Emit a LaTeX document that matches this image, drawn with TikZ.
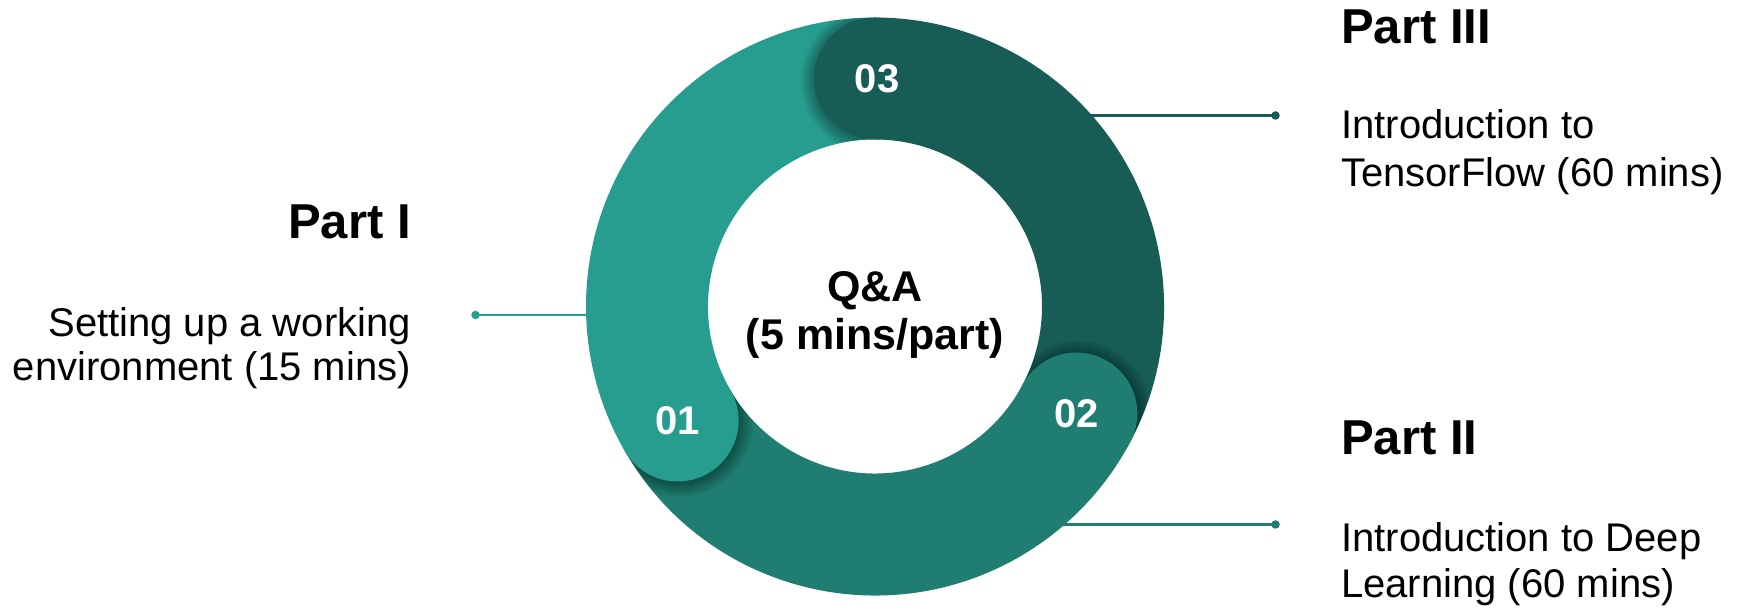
\documentclass[tikz,border=0pt]{standalone}
\usepackage{fontspec}
\setmainfont{Liberation Sans}
\usetikzlibrary{calc}
\definecolor{tealA}{HTML}{279D8F}
\definecolor{tealB}{HTML}{1F7D72}
\definecolor{tealC}{HTML}{175C55}
\newcommand\ringsector[3]{\fill[#1] ($(C)+(#2:289)$) arc[start angle=#2,end angle=#3,radius=289] -- ($(C)+(#3:167)$) arc[start angle=#3,end angle=#2,radius=167] -- cycle;}
\newcommand\capshadow[1]{%
  \begin{scope}
    \clip ($(C)+(#1:288.5)$) arc[start angle=#1,end angle=#1+70,radius=288.5] -- ($(C)+(#1+70:167.5)$) arc[start angle=#1+70,end angle=#1,radius=167.5] -- cycle;
    \foreach \k in {1,...,14} {\fill[black,opacity=0.022] ($(C)+(#1:228)+(1,-2)$) circle[radius=61+\k];}
  \end{scope}}
\begin{document}
\begin{tikzpicture}[x=1pt,y=1pt,
  parttitle/.style={font=\fontsize{49}{56}\selectfont\bfseries, inner sep=0pt},
  bodytext/.style={font=\fontsize{40}{44}\selectfont, inner sep=0pt},
  numlabel/.style={font=\fontsize{40}{44}\selectfont\bfseries, text=white, inner sep=0pt},
  centertext/.style={font=\fontsize{43}{48}\selectfont\bfseries, inner sep=0pt},
  leader/.style={line width=2.2pt},
  enddot/.style={circle, inner sep=0pt, minimum size=8.5pt}
]
\useasboundingbox[fill=white] (0,0) rectangle (1742,609);
\coordinate (C) at (875,302.5);

% leader lines (behind ring)
\node[enddot, fill=tealA] (d1) at (475.5,294) {};
\node[enddot, fill=tealC] (d3) at (1275.5,493.5) {};
\node[enddot, fill=tealB] (d2) at (1275.5,84.5) {};
\coordinate (r1) at (600,294);
\coordinate (r3) at (1080,493.5);
\coordinate (r2) at (1050,84.5);
\draw[leader, tealA] (d1.center) -- (r1);
\draw[leader, tealC] (d3.center) -- (r3);
\draw[leader, tealB] (d2.center) -- (r2);

% ring
\ringsector{tealC}{-28}{90}
\ringsector{tealB}{-150}{-28}
\ringsector{tealA}{90}{210}

% cap shadows
\capshadow{90}
\capshadow{-28}
\capshadow{210}

% caps
\fill[tealC] ($(C)+(90:228)$) circle[radius=61];
\fill[tealB] ($(C)+(-28:228)$) circle[radius=61];
\fill[tealA] ($(C)+(210:228)$) circle[radius=61];

\node[numlabel] (n3) at ($(C)+(90:228)+(2,0)$) {03};
\node[numlabel] (n2) at ($(C)+(-28:228)$) {02};
\node[numlabel] (n1) at ($(C)+(210:228)$) {01};

% center text
\node[centertext, anchor=base] (qa1) at (875,307) {Q\&A};
\node[centertext, anchor=base] (qa2) at (875,259) {(5 mins/part)};

% Part I
\node[parttitle, anchor=base east] (t1) at (411,370) {Part I};
\node[bodytext, anchor=base east] (b1a) at (411,272) {Setting up a working};
\node[bodytext, anchor=base east] (b1b) at (411,228) {environment (15 mins)};

% Part III
\node[parttitle, anchor=base west] (t3) at (1341,565) {Part III};
\node[bodytext, anchor=base west] (b3a) at (1341,470) {Introduction to};
\node[bodytext, anchor=base west] (b3b) at (1341,422) {TensorFlow (60 mins)};

% Part II
\node[parttitle, anchor=base west] (t2) at (1341,154) {Part II};
\node[bodytext, anchor=base west] (b2a) at (1341,57) {Introduction to Deep};
\node[bodytext, anchor=base west] (b2b) at (1341,11) {Learning (60 mins)};
\end{tikzpicture}
\end{document}
